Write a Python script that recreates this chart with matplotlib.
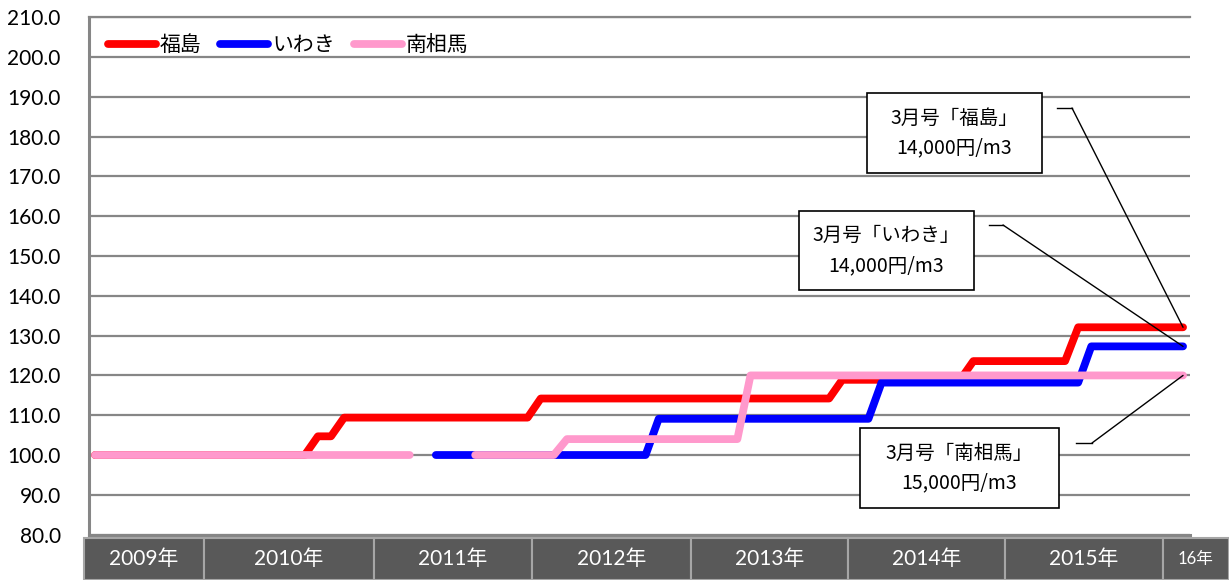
import matplotlib.pyplot as plt
import numpy as np
from matplotlib.patches import Rectangle
from matplotlib.lines import Line2D

plt.rcParams['font.family'] = ['Lato', 'Noto Sans CJK JP']

nan = np.nan

# monthly index, 2009/4 - 2016/3
fukushima = [
    100, 100, 100, 100, 100, 100, 100, 100, 100,
    100, 100, 100, 100, 100, 100, 100, 100, 104.7, 104.7, 109.4, 109.4,
    109.4, 109.4, 109.4, 109.4, 109.4, 109.4, 109.4, 109.4, 109.4, 109.4, 109.4, 109.4,
    109.4, 114.2, 114.2, 114.2, 114.2, 114.2, 114.2, 114.2, 114.2, 114.2, 114.2, 114.2,
    114.2, 114.2, 114.2, 114.2, 114.2, 114.2, 114.2, 114.2, 114.2, 114.2, 114.2, 114.2,
    118.9, 118.9, 118.9, 118.9, 118.9, 118.9, 118.9, 118.9, 118.9, 118.9, 123.6, 123.6,
    123.6, 123.6, 123.6, 123.6, 123.6, 123.6, 132.1, 132.1, 132.1, 132.1, 132.1, 132.1,
    132.1, 132.1, 132.1,
]
iwaki = [
    nan, nan, nan, nan, nan, nan, nan, nan, nan,
    nan, nan, nan, nan, nan, nan, nan, nan, nan, nan, nan, nan,
    nan, nan, nan, nan, nan, 100, 100, 100, 100, 100, 100, 100,
    100, 100, 100, 100, 100, 100, 100, 100, 100, 100, 109.1, 109.1,
    109.1, 109.1, 109.1, 109.1, 109.1, 109.1, 109.1, 109.1, 109.1, 109.1, 109.1, 109.1,
    109.1, 109.1, 109.1, 118.2, 118.2, 118.2, 118.2, 118.2, 118.2, 118.2, 118.2, 118.2,
    118.2, 118.2, 118.2, 118.2, 118.2, 118.2, 118.2, 127.3, 127.3, 127.3, 127.3, 127.3,
    127.3, 127.3, 127.3,
]
minamisoma = [
    100, 100, 100, 100, 100, 100, 100, 100, 100,
    100, 100, 100, 100, 100, 100, 100, 100, 100, 100, 100, 100,
    100, 100, 100, 100, nan, nan, nan, nan, 100, 100, 100, 100,
    100, 100, 100, 104, 104, 104, 104, 104, 104, 104, 104, 104,
    104, 104, 104, 104, 104, 120, 120, 120, 120, 120, 120, 120,
    120, 120, 120, 120, 120, 120, 120, 120, 120, 120, 120, 120,
    120, 120, 120, 120, 120, 120, 120, 120, 120, 120, 120, 120,
    120, 120, 120,
]

series_names = ['福島', 'いわき', '南相馬']
series_colors = ['#ff0000', '#0000ff', '#ff99cc']

year_labels = ['2009年', '2010年', '2011年', '2012年', '2013年', '2014年', '2015年', '16年']
year_edges_px = [84, 204, 373.5, 531.6, 691, 848, 1005, 1163, 1229]

notes = [('3月号「福島」', '14,000円/m3'),
         ('3月号「いわき」', '14,000円/m3'),
         ('3月号「南相馬」', '15,000円/m3')]
# box (x0, y0, x1, y1) and leader start/elbow, in pixels from top-left
note_boxes = [(867, 93, 1042, 173), (799, 211, 974, 290), (860, 428, 1059, 508)]
note_leaders = [((1057, 108), (1072, 108)), ((989, 225), (1003, 225)), ((1076, 443), (1092, 443))]

W, H = 1229, 580
fig = plt.figure(figsize=(W / 100, H / 100), dpi=100)


def fx(px):
    return px / W


def fy(py):
    return 1 - py / H


ax = fig.add_axes([fx(88.5), fy(534.6), fx(1189.6) - fx(88.5), fy(17.3) - fy(534.6)])

x = np.arange(len(fukushima))
data = [fukushima, iwaki, minamisoma]
for vals, name, col in zip(data, series_names, series_colors):
    ax.plot(x, vals, color=col, lw=5.6, label=name,
            solid_capstyle='round', solid_joinstyle='round', zorder=3)

ax.set_xlim(-0.5, len(x) - 0.5)
ax.set_ylim(80, 210)
ax.set_yticks(np.arange(80, 211, 10))
ax.set_yticklabels(['%.1f' % v for v in np.arange(80, 211, 10)], fontsize=15)
ax.tick_params(axis='y', length=0, pad=20)
ax.set_xticks([])
ax.grid(axis='y', color='#868686', lw=1.6)
ax.set_axisbelow(True)
for s in ['right']:
    ax.spines[s].set_visible(False)
ax.spines['top'].set_color('#868686')
ax.spines['top'].set_linewidth(1.6)
ax.spines['left'].set_color('#868686')
ax.spines['left'].set_linewidth(2.2)
ax.spines['bottom'].set_color('#868686')
ax.spines['bottom'].set_linewidth(2.2)

ax.legend(loc='center left', bbox_to_anchor=(0.0175, 0.9465), ncol=3, frameon=False,
          fontsize=15, handlelength=2.3, handletextpad=0.2, columnspacing=0.9,
          borderpad=0, borderaxespad=0)

# year band under the axis
for i, lab in enumerate(year_labels):
    x0, x1 = year_edges_px[i], year_edges_px[i + 1]
    fig.add_artist(Rectangle((fx(x0), fy(580)), fx(x1) - fx(x0), fy(537.8) - fy(580),
                             transform=fig.transFigure, facecolor='#595959',
                             edgecolor='#a6a6a6', lw=1.5))
    fig.text(fx((x0 + x1) / 2), fy(559), lab, color='white',
             fontsize=12 if lab == '16年' else 15, ha='center', va='center')

# callouts
for (l1, l2), (bx0, by0, bx1, by1), (p0, p1), vals in zip(notes, note_boxes, note_leaders, data):
    fig.add_artist(Rectangle((fx(bx0), fy(by1)), fx(bx1) - fx(bx0), fy(by0) - fy(by1),
                             transform=fig.transFigure, facecolor='white',
                             edgecolor='black', lw=1.2, zorder=5))
    cx = (bx0 + bx1) / 2
    cy = (by0 + by1) / 2
    fig.text(fx(cx), fy(cy - 15), l1, fontsize=14, ha='center', va='center',
             family=['Noto Sans CJK JP'], zorder=6)
    fig.text(fx(cx), fy(cy + 15), l2, fontsize=14, ha='center', va='center',
             family=['Noto Sans CJK JP'], zorder=6)
    fig.add_artist(Line2D([fx(p0[0]), fx(p1[0])], [fy(p0[1]), fy(p1[1])],
                          transform=fig.transFigure, color='black', lw=1))
    ax.annotate('', xy=(x[-1], vals[-1]), xycoords='data',
                xytext=(p1[0], H - p1[1]), textcoords='figure pixels',
                arrowprops=dict(arrowstyle='-', color='black', lw=1,
                                shrinkA=0, shrinkB=0), zorder=6)

fig.savefig('out.png', dpi=100)
